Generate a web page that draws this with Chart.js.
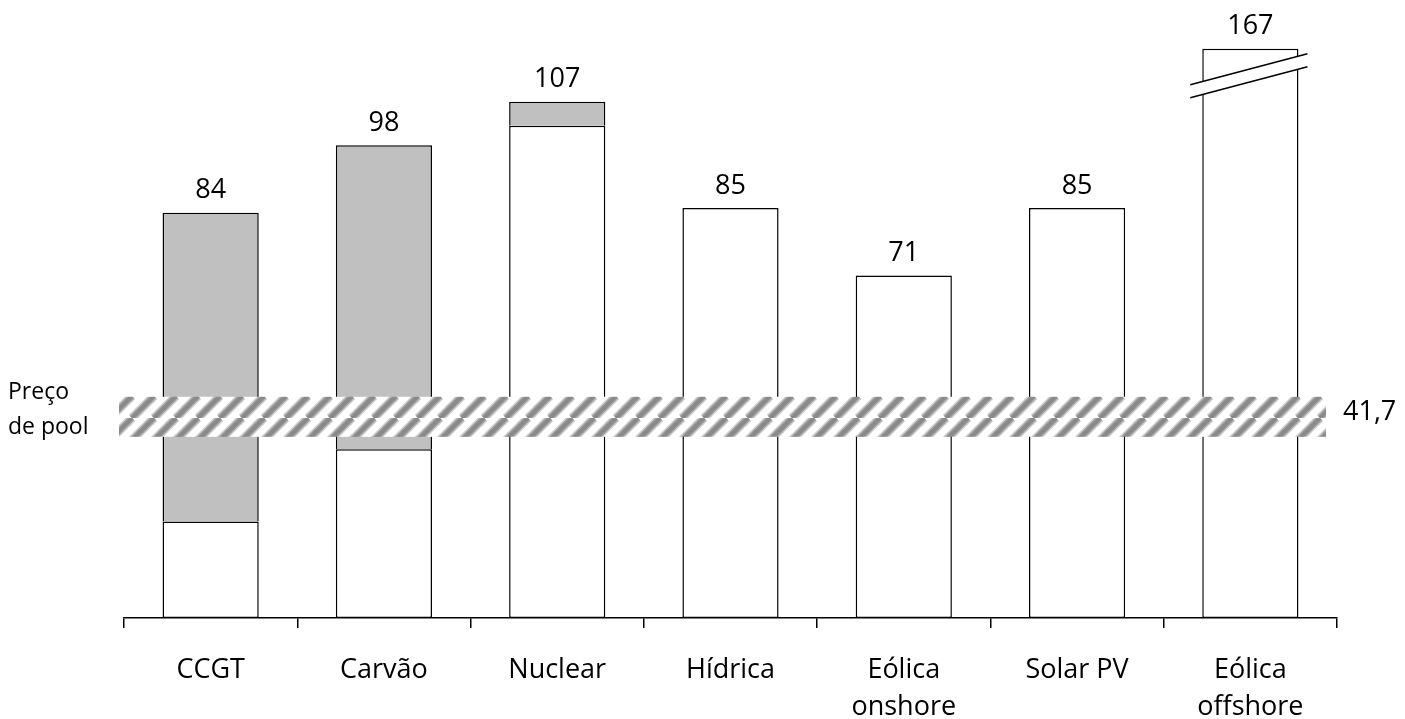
<!DOCTYPE html>
<html><head><meta charset="utf-8">
<script src="https://cdn.jsdelivr.net/npm/chart.js@4.4.1/dist/chart.umd.min.js"></script>
<style>html,body{margin:0;padding:0;background:#fff}#wrap{width:1405px;height:719px}</style>
</head><body><div id="wrap"><canvas id="c" width="1405" height="719"></canvas></div>
<script>
// Custo nivelado de produção por tecnologia (€/MWh)
const categories = ['CCGT', 'Carvão', 'Nuclear', 'Hídrica', ['Eólica', 'onshore'], 'Solar PV', ['Eólica', 'offshore']];
const baseCost = [20, 35, 102, 85, 71, 85, 167];
const extraCost = [64, 63, 5, null, null, null, null];
const poolPrice = 41.7;
const poolPriceText = '41,7';
const poolLabel = ['Preço', 'de pool'];
const breakCap = 118;   // bars taller than this are drawn with an axis break
const yMax = 120;

const totals = baseCost.map((v, i) => v + (extraCost[i] || 0));
const baseShown = baseCost.map(v => Math.min(v, breakCap));
const FONT = '"Open Sans", "Noto Sans", sans-serif';

function stripePattern(ctx) {
  const p = 22;
  const t = document.createElement('canvas');
  t.width = p; t.height = p;
  const g = t.getContext('2d');
  g.fillStyle = '#fff';
  g.fillRect(0, 0, p, p);
  const draw = (w, col) => {
    g.strokeStyle = col; g.lineWidth = w;
    for (let k = -1; k <= 1; k++) {
      g.beginPath();
      g.moveTo(k * p, p);
      g.lineTo(k * p + p, 0);
      g.stroke();
    }
  };
  draw(9, '#cfcfcf');
  draw(6.5, '#a4a4a4');
  draw(4, '#8a8a8a');
  return ctx.createPattern(t, 'repeat');
}

const overlay = {
  id: 'overlay',
  afterDatasetsDraw(chart) {
    const ctx = chart.ctx;
    const y = chart.scales.y;
    const area = chart.chartArea;
    const bottomMeta = chart.getDatasetMeta(0);
    const topMeta = chart.getDatasetMeta(1);
    ctx.save();

    // pool price band
    const yc = y.getPixelForValue(poolPrice);
    const half = y.getPixelForValue(0) - y.getPixelForValue(4.15);
    ctx.fillStyle = stripePattern(ctx);
    ctx.fillRect(area.left - 5, yc - half, (area.right - 11) - (area.left - 5), half * 2);

    ctx.fillStyle = '#000';
    ctx.font = '27px ' + FONT;
    ctx.textBaseline = 'middle';
    ctx.textAlign = 'left';
    ctx.fillText(poolPriceText, area.right + 6, yc - 4);
    ctx.font = '23px ' + FONT;
    ctx.fillText(poolLabel[0], 8, yc - 24);
    ctx.fillText(poolLabel[1], 8, yc + 11);

    // totals above each bar
    ctx.font = '27px ' + FONT;
    ctx.textAlign = 'center';
    totals.forEach((t, i) => {
      const el = (extraCost[i] ? topMeta : bottomMeta).data[i];
      ctx.fillText(String(t), el.x, el.y - 22);
    });

    // axis break on bars above the cap
    baseCost.forEach((v, i) => {
      if (v <= breakCap) return;
      const el = bottomMeta.data[i];
      const x0 = el.x - el.width / 2 - 12, x1 = el.x + el.width / 2 + 9;
      const yl = el.y + 36, yr = el.y + 5, gap = 13;
      ctx.fillStyle = '#fff';
      ctx.beginPath();
      ctx.moveTo(x0, yl); ctx.lineTo(x1, yr);
      ctx.lineTo(x1, yr + gap); ctx.lineTo(x0, yl + gap);
      ctx.closePath(); ctx.fill();
      ctx.strokeStyle = '#000'; ctx.lineWidth = 1.5;
      ctx.beginPath();
      ctx.moveTo(x0, yl); ctx.lineTo(x1, yr);
      ctx.moveTo(x0, yl + gap); ctx.lineTo(x1, yr + gap);
      ctx.stroke();
    });
    ctx.restore();
  }
};

new Chart(document.getElementById('c'), {
  type: 'bar',
  data: {
    labels: categories,
    datasets: [
      { data: baseShown, backgroundColor: '#ffffff', borderColor: '#000', borderWidth: 1.5, borderSkipped: false,
        barPercentage: 0.555, categoryPercentage: 1 },
      { data: extraCost, backgroundColor: '#c0c0c0', borderColor: '#000', borderWidth: 1.5, borderSkipped: 'bottom',
        barPercentage: 0.555, categoryPercentage: 1 }
    ]
  },
  options: {
    responsive: false,
    devicePixelRatio: 1,
    animation: false,
    layout: { padding: { left: 124, right: 68, top: 39, bottom: -31 } },
    plugins: { legend: { display: false }, tooltip: { enabled: false } },
    scales: {
      x: {
        stacked: true,
        grid: { display: true, drawOnChartArea: false, drawTicks: true, tickLength: 10, color: '#000', lineWidth: 1.5, offset: true },
        border: { display: true, color: '#000', width: 1.5 },
        ticks: { color: '#000', font: { family: FONT, size: 27, lineHeight: 1.37 }, padding: 24, maxRotation: 0, autoSkip: false }
      },
      y: { stacked: true, display: false, min: 0, max: yMax }
    }
  },
  plugins: [overlay]
});
</script>
</body></html>
